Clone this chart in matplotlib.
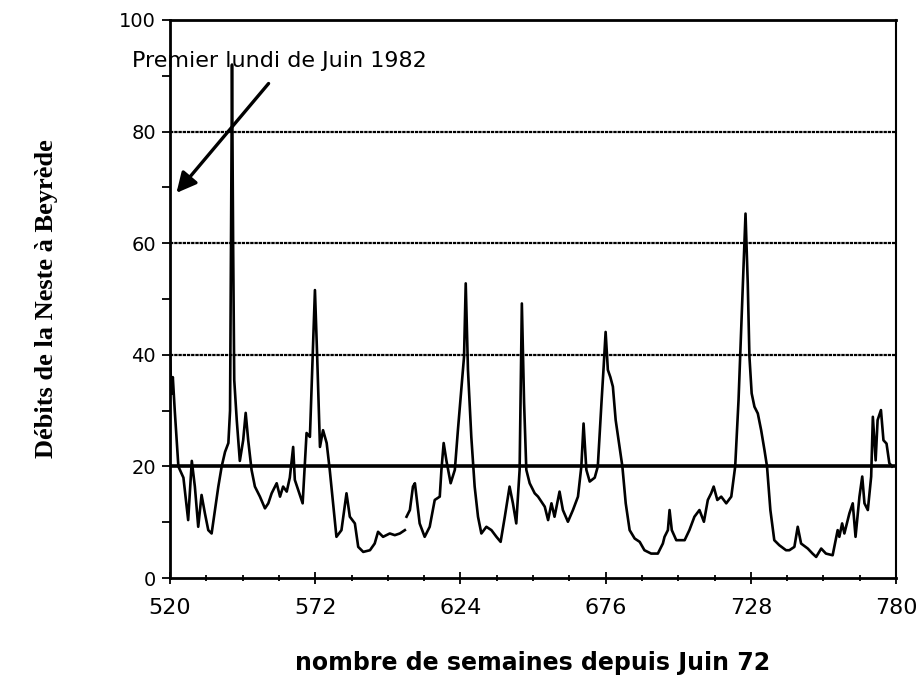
import numpy as np
import matplotlib.pyplot as plt


# weekly flow of the Neste at Beyrede
weeks = [520, 520.5, 521, 521.7, 523.0, 524.8, 526.5, 527.8, 528.9, 530.1,
         531.3, 532.5, 533.7, 534.9, 536.1, 537.3, 538.5, 539.7, 540.9, 541.5,
         542.2, 542.6, 543.0, 543.9, 545.0, 546.2, 547.1, 548.0, 549.2, 550.4,
         552.2, 554.0, 555.2, 556.4, 558.2, 559.4, 560.5, 561.8, 562.9, 564.1,
         564.7, 565.9, 567.5, 568.3, 568.9, 570.1, 571.1, 571.9, 572.7, 573.7,
         574.8, 576.1, 577.2, 578.4, 579.6, 581.4, 583.2, 584.4, 586.2, 587.4,
         589.2, 591.6, 593.3, 594.5, 596.3, 598.7, 600.5, 602.3, 604.1, 604.4,
         604.7, 605.9, 607.0, 607.7, 609.4, 611.2, 613.0, 614.8, 616.6, 617.2,
         618.0, 619.0, 620.5, 622.0, 623.1, 624.4, 625.3, 625.9, 626.7, 627.9,
         629.1, 630.3, 631.5, 633.3, 635.1, 636.9, 638.4, 639.9, 641.6, 642.8,
         644.0, 645.2, 646.0, 646.8, 647.6, 648.8, 650.6, 651.8, 654.2, 655.4,
         656.6, 657.7, 659.5, 660.7, 662.5, 664.3, 666.1, 667.3, 668.1, 669.1,
         670.3, 672.1, 673.2, 674.5, 675.3, 676.0, 676.8, 677.7, 678.6, 679.6,
         680.8, 682.0, 683.2, 684.6, 686.4, 688.2, 689.9, 692.3, 694.7, 696.5,
         697.1, 698.3, 698.9, 699.7, 701.3, 704.3, 706.0, 707.8, 709.6, 711.2,
         712.6, 713.8, 714.7, 716.0, 717.4, 719.2, 721.0, 722.4, 723.6, 724.5,
         725.4, 726.1, 726.9, 727.5, 728.3, 729.3, 730.5, 731.7, 732.9, 733.8,
         735.0, 736.4, 738.2, 740.6, 741.8, 743.6, 744.8, 746.0, 748.4, 750.1,
         751.4, 753.2, 754.9, 757.3, 759.1, 759.7, 760.7, 761.5, 763.3, 764.5,
         765.5, 766.9, 767.9, 768.7, 769.9, 771.1, 771.7, 772.7, 773.4, 774.6,
         775.5, 776.6, 777.6, 778.6]
debits = [40, 33, 36, 30, 20, 18, 10.4, 21, 16.4, 9.2,
          14.9, 11.6, 8.6, 8.0, 12.2, 16.4, 20, 22.6, 24.2, 30,
          92, 60, 35.5, 28.3, 21, 24.7, 29.6, 24.7, 19.4, 16.4,
          14.6, 12.5, 13.4, 15.2, 17, 14.6, 16.4, 15.5, 18, 23.5,
          17.6, 15.8, 13.4, 20.6, 26, 25.3, 39.7, 51.6, 39.7, 23.5,
          26.5, 24.2, 19.4, 13.4, 7.4, 8.6, 15.2, 11, 9.8, 5.6,
          4.7, 5, 6.2, 8.3, 7.4, 8, 7.7, 8, 8.6, np.nan,
          11, 12.2, 16.4, 17, 9.8, 7.4, 9.2, 14, 14.6, 19.4,
          24.2, 21, 17, 19.4, 26.5, 34.3, 39.7, 52.8, 37.3, 25.3,
          16.4, 11, 8, 9.2, 8.6, 7.4, 6.5, 11, 16.4, 13.4,
          9.8, 19.4, 49.2, 31.4, 19.4, 17, 15.2, 14.6, 12.8, 10.4,
          13.4, 11, 15.5, 12.2, 10.1, 12.2, 14.6, 20, 27.7, 19.4,
          17.3, 18, 20, 31.3, 37.9, 44.1, 37.3, 36, 34.3, 28.3,
          24.2, 20, 13.4, 8.6, 7.1, 6.5, 5, 4.4, 4.4, 6.2,
          7.4, 8.6, 12.2, 8.6, 6.8, 6.8, 8.6, 11, 12.2, 10.1,
          14, 15.2, 16.4, 14, 14.6, 13.4, 14.6, 20, 31.9, 43.9,
          55.8, 65.3, 52.8, 39.7, 33.1, 30.7, 29.5, 26.5, 22.9, 20,
          12.2, 6.8, 5.9, 5, 5, 5.6, 9.2, 6.2, 5.3, 4.4,
          3.8, 5.3, 4.4, 4.1, 8.6, 7.4, 9.8, 8, 11.6, 13.4,
          7.4, 14.6, 18.2, 13.4, 12.2, 18.2, 28.9, 21.1, 28.3, 30.1,
          24.7, 24.1, 20.6, 20]

xticks = [520, 572, 624, 676, 728, 780]
yticks = [0, 20, 40, 60, 80, 100]

fig = plt.figure(figsize=(9.19, 6.85), dpi=100)
ax = fig.add_axes([0.185, 0.156, 0.79, 0.815])

# horizontal grid lines
ax.axhline(20, color='black', lw=2.6, zorder=1)
for g in [40, 60, 80]:
    ax.axhline(g, color='black', lw=1.6, ls=(0, (1.5, 0.4)), zorder=1)

ax.plot(weeks, debits, color='black', lw=1.9, zorder=3)

ax.set_xlim(520, 780)
ax.set_ylim(0, 100)
ax.set_xticks(xticks)
ax.set_xticks(np.arange(520, 781, 13), minor=True)
ax.set_yticks(yticks)
ax.set_yticks(np.arange(0, 101, 10), minor=True)
ax.tick_params(axis='x', which='both', direction='inout', length=8, width=1.3, labelsize=16, pad=10)
ax.tick_params(axis='y', which='both', direction='out', length=6, width=1.3, labelsize=14, pad=4)
ax.tick_params(axis='x', which='minor', length=5)
for s in ax.spines.values():
    s.set_linewidth(2)
ax.spines['right'].set_linewidth(1.5)

ax.set_xlabel('nombre de semaines depuis Juin 72', fontsize=17, fontweight='semibold', labelpad=24)
ax.set_ylabel('Débits de la Neste à Beyrède', fontsize=19, fontweight='bold',
              family='Liberation Serif', labelpad=44)

ax.text(506.5, 92.6, 'Premier lundi de Juin 1982', fontsize=16, va='center', ha='left', clip_on=False)
ax.annotate('', xy=(522.3, 69.0), xytext=(555.3, 88.6), annotation_clip=False,
            arrowprops=dict(arrowstyle='-|>', color='black', lw=2.4, mutation_scale=30,
                            shrinkA=0, shrinkB=0))

fig.savefig('out.png', dpi=100)
